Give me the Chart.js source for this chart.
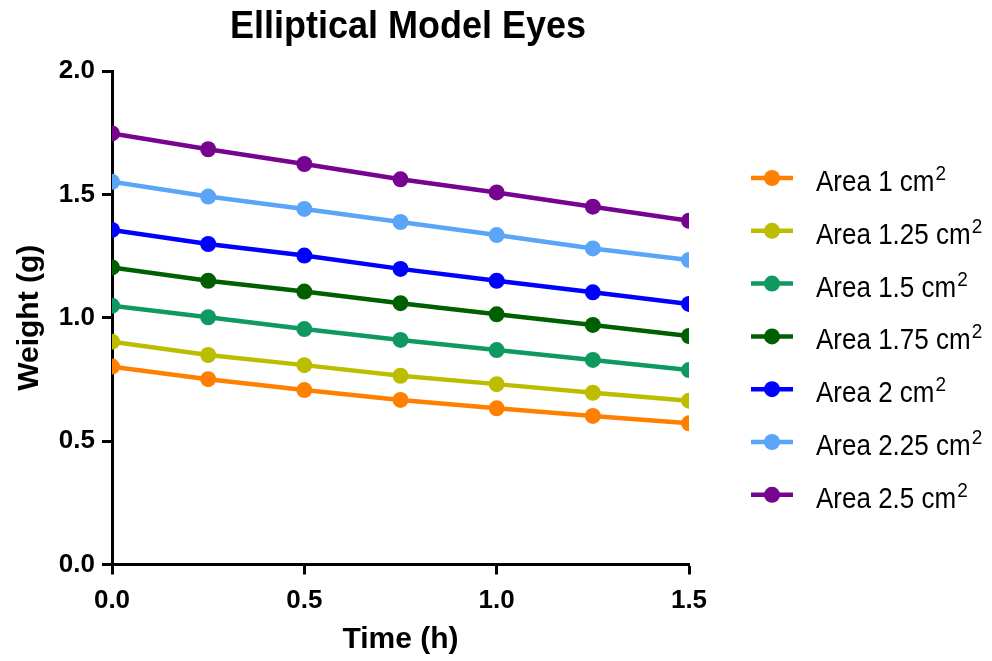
<!DOCTYPE html>
<html>
<head>
<meta charset="utf-8">
<title>Elliptical Model Eyes</title>
<script src="https://cdn.jsdelivr.net/npm/chart.js@4.4.1/dist/chart.umd.min.js"></script>
<style>
  html, body { margin: 0; padding: 0; background: #fff; }
  #wrap { width: 992px; height: 661px; position: relative; }
</style>
</head>
<body>
<div id="wrap"><canvas id="eyesChart"></canvas></div>
<script>
// time points (h)
const times = [0, 0.25, 0.5, 0.75, 1.0, 1.25, 1.5];

// weight (g) for each eye area
const area1   = [0.802, 0.751, 0.707, 0.667, 0.633, 0.602, 0.572];
const area125 = [0.903, 0.849, 0.808, 0.765, 0.731, 0.696, 0.664];
const area15  = [1.049, 1.002, 0.954, 0.910, 0.869, 0.829, 0.788];
const area175 = [1.204, 1.150, 1.106, 1.059, 1.014, 0.971, 0.926];
const area2   = [1.356, 1.299, 1.252, 1.198, 1.150, 1.103, 1.056];
const area225 = [1.551, 1.491, 1.441, 1.388, 1.335, 1.281, 1.234];
const area25  = [1.747, 1.683, 1.623, 1.561, 1.508, 1.450, 1.393];

const seriesNames = ['Area 1', 'Area 1.25', 'Area 1.5', 'Area 1.75', 'Area 2', 'Area 2.25', 'Area 2.5'];
const seriesValues = [area1, area125, area15, area175, area2, area225, area25];
const seriesColors = ['#FF8000', '#BDBD00', '#0F9960', '#005F00', '#0000FF', '#5AA5F8', '#76048F'];

const yTicks = [0, 0.5, 1.0, 1.5, 2.0];
const xTicks = [0, 0.5, 1.0, 1.5];

const FONT = "'Liberation Sans', Arial, Helvetica, sans-serif";
Chart.defaults.font.family = FONT;
Chart.defaults.color = '#000';

const datasets = seriesNames.map((name, i) => ({
  label: name + ' cm2',
  data: times.map((t, j) => ({ x: t, y: seriesValues[i][j] })),
  borderColor: seriesColors[i],
  backgroundColor: seriesColors[i],
  pointBackgroundColor: seriesColors[i],
  pointBorderColor: seriesColors[i],
  borderWidth: 4.5,
  pointRadius: 8,
  pointBorderWidth: 0,
  tension: 0
}));

// text drawn slightly taller than wide, like the export's lettering
function tallText(ctx, txt, x, y, sy) {
  ctx.save();
  ctx.translate(x, y);
  ctx.scale(1, sy);
  ctx.fillText(txt, 0, 0);
  ctx.restore();
}

// title and the legend on the right (line + dot, superscript unit)
const decorPlugin = {
  id: 'decor',
  afterDraw(chart) {
    const ctx = chart.ctx;
    ctx.save();
    ctx.fillStyle = '#000';
    ctx.font = 'bold 36px ' + FONT;
    ctx.textAlign = 'center';
    ctx.textBaseline = 'alphabetic';
    tallText(ctx, 'Elliptical Model Eyes', 408, 38, 1.1);

    const rowTop = 178;
    const rowGap = 52.8;
    seriesNames.forEach((name, i) => {
      const y = rowTop + i * rowGap;
      ctx.strokeStyle = seriesColors[i];
      ctx.lineWidth = 4.5;
      ctx.beginPath();
      ctx.moveTo(751, y);
      ctx.lineTo(793, y);
      ctx.stroke();
      ctx.fillStyle = seriesColors[i];
      ctx.beginPath();
      ctx.arc(772, y, 8, 0, Math.PI * 2);
      ctx.fill();

      ctx.fillStyle = '#000';
      ctx.textAlign = 'left';
      ctx.font = '26px ' + FONT;
      const txt = name + ' cm';
      tallText(ctx, txt, 816, y + 13, 1.12);
      const w = ctx.measureText(txt).width;
      ctx.font = '19px ' + FONT;
      tallText(ctx, '2', 816 + w + 1, y + 2, 1.1);
    });
    ctx.restore();
  }
};

new Chart(document.getElementById('eyesChart'), {
  type: 'line',
  data: { datasets },
  options: {
    responsive: true,
    maintainAspectRatio: false,
    animation: false,
    layout: { padding: { top: 71, right: 303, bottom: 0, left: 0 } },
    plugins: {
      legend: { display: false },
      tooltip: { enabled: false },
      title: { display: false }
    },
    scales: {
      x: {
        type: 'linear',
        min: 0,
        max: 1.5,
        afterBuildTicks: s => { s.ticks = xTicks.map(v => ({ value: v })); },
        afterFit: s => { s.height = 96.5; },
        ticks: {
          font: { size: 26, weight: 'bold' },
          padding: 11,
          maxRotation: 0,
          callback: v => Number(v).toFixed(1)
        },
        grid: { drawOnChartArea: false, drawTicks: true, tickLength: 10, tickWidth: 3, tickColor: '#000' },
        border: { display: true, color: '#000', width: 3 },
        title: {
          display: true,
          text: 'Time (h)',
          font: { size: 30, weight: 'bold' },
          padding: { top: 0, bottom: 3 }
        }
      },
      y: {
        min: 0,
        max: 2.0,
        afterBuildTicks: s => { s.ticks = yTicks.map(v => ({ value: v })); },
        afterFit: s => { s.width = 112; },
        ticks: {
          font: { size: 26, weight: 'bold' },
          padding: 7,
          callback: v => Number(v).toFixed(1)
        },
        grid: { drawOnChartArea: false, drawTicks: true, tickLength: 10, tickWidth: 3, tickColor: '#000' },
        border: { display: true, color: '#000', width: 3 },
        title: {
          display: true,
          text: 'Weight (g)',
          font: { size: 30, weight: 'bold' },
          padding: { top: 12, bottom: 0 }
        }
      }
    }
  },
  plugins: [decorPlugin]
});
</script>
</body>
</html>
